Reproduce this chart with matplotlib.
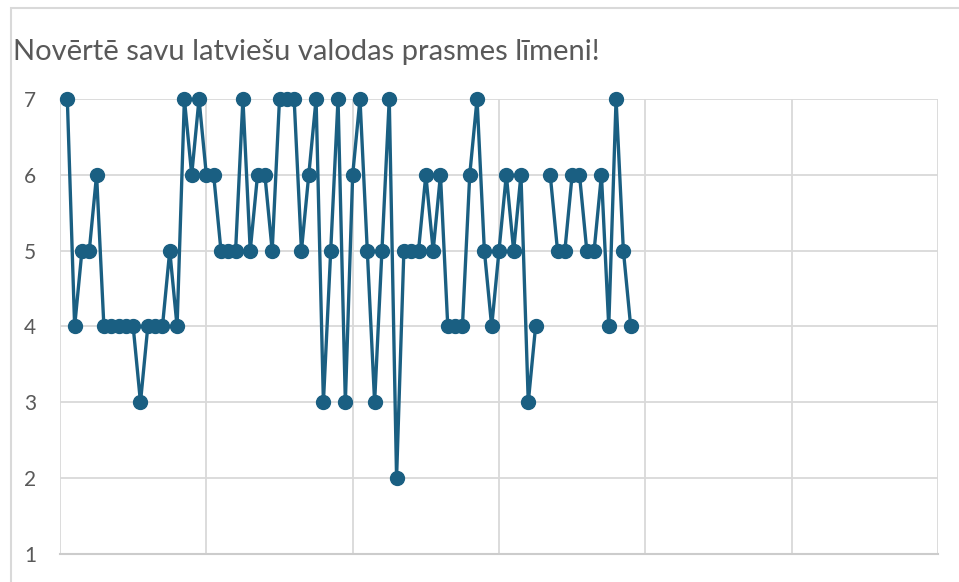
import numpy as np
import matplotlib.pyplot as plt
from matplotlib.patches import Rectangle

# Atbildes (1..7), viena vērtība trūkst
responses = [7, 4, 5, 5, 6, 4, 4, 4, 4, 4,
             3, 4, 4, 4, 5, 4, 7, 6, 7, 6,
             6, 5, 5, 5, 7, 5, 6, 6, 5, 7,
             7, 7, 5, 6, 7, 3, 5, 7, 3, 6,
             7, 5, 3, 5, 7, 2, 5, 5, 5, 6,
             5, 6, 4, 4, 4, 6, 7, 5, 4, 5,
             6, 5, 6, 3, 4, np.nan, 6, 5, 5, 6,
             6, 5, 5, 6, 4, 7, 5, 4]
respondents = np.arange(1, len(responses) + 1)

title = "Novērtē savu latviešu valodas prasmes līmeni!"
y_ticks = [1, 2, 3, 4, 5, 6, 7]
x_grid = [0, 20, 40, 60, 80, 100, 120]

line_color = '#1a5f82'
grid_color = '#d9d9d9'
text_color = '#595959'

plt.rcParams['font.family'] = ['Lato', 'DejaVu Sans']

fig = plt.figure(figsize=(9.59, 5.82), dpi=100)
ax = fig.add_axes([60/959, 1 - 554/582, (938 - 60)/959, (554 - 99)/582])

# rāmis ap diagrammu
fig.patches.append(Rectangle((11/959, -0.1), 1.2, 1 - 8/582 + 0.1,
                             transform=fig.transFigure, fill=False,
                             edgecolor='#d9d9d9', linewidth=1.5))

ax.plot(respondents, responses, '-o', color=line_color, linewidth=2.4,
        markersize=10, clip_on=False, zorder=3)

ax.set_xlim(0, 120)
ax.set_ylim(1, 7)
ax.set_xticks(x_grid)
ax.set_xticklabels([])
ax.set_yticks(y_ticks)
ax.tick_params(axis='both', length=0)
ax.tick_params(axis='y', labelsize=15, labelcolor=text_color, pad=17)
ax.grid(True, color=grid_color, linewidth=1.3)
ax.set_axisbelow(True)
for s in ['top', 'right', 'left']:
    ax.spines[s].set_visible(False)
ax.spines['bottom'].set_color('#cccccc')
ax.spines['bottom'].set_linewidth(1.5)

fig.text(13/959, 1 - 52/582, title, fontsize=21, color=text_color,
         ha='left', va='center')

fig.savefig('out.png', dpi=100)
